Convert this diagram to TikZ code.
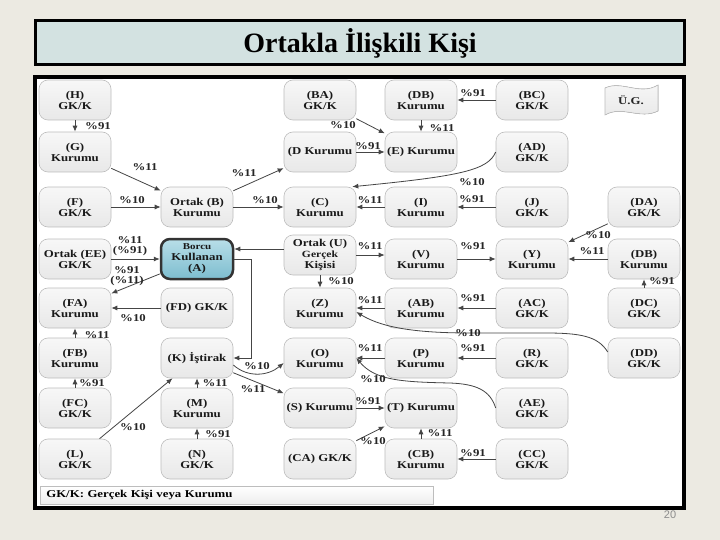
\documentclass[tikz,border=0pt]{standalone}
\usepackage{fontspec}
\setmainfont{Liberation Serif}
\newfontfamily\nodefont[FakeStretch=1.22]{Liberation Serif}
\newfontfamily\pagenumfont{Liberation Sans}
\usetikzlibrary{arrows.meta,calc}
\definecolor{pagebg}{HTML}{ECEAE2}
\definecolor{titlebg}{HTML}{D3E2E1}
\definecolor{boxline}{HTML}{BDBDBD}
\definecolor{arrowc}{HTML}{454545}
\definecolor{bluetop}{HTML}{B8DEE8}
\definecolor{bluebot}{HTML}{7DBDCF}
\begin{document}
\begin{tikzpicture}[x=1pt,y=-1pt,
  box/.style={draw=boxline, line width=0.6pt, rounded corners=9pt,
    minimum width=72pt, minimum height=40pt, top color=gray!6, bottom color=gray!18,
    align=center, inner sep=1pt,
    font=\nodefont\bfseries\fontsize{10.5}{11}\selectfont, text=black!90},
  mainbox/.style={box, draw=black!80, line width=2.5pt, top color=bluetop, bottom color=bluebot},
  lbl/.style={font=\nodefont\bfseries\fontsize{10.5}{10.5}\selectfont, inner sep=0pt, text=black!85, align=center},
  arr/.style={draw=arrowc, line width=0.8pt, -{Latex[length=6pt,width=5pt]}}
]
\fill[pagebg] (0,0) rectangle (720,540);
\useasboundingbox (0,0) rectangle (720,540);

% title
\node[draw=black, line width=3pt, fill=titlebg, minimum width=649pt, minimum height=44pt,
  font=\fontsize{28}{30}\selectfont\bfseries] (title) at (360,43) {Ortakla İlişkili Kişi};
% panel
\node[draw=black, line width=4pt, fill=white, minimum width=649pt, minimum height=431pt] (panel) at (359.5,292.5) {};

% row 1
\node[box] (nH)  at (75,100)  {(H)\\GK/K};
\node[box] (nBA) at (320,100) {(BA)\\GK/K};
\node[box] (nDB) at (421,100) {(DB)\\Kurumu};
\node[box] (nBC) at (532,100) {(BC)\\GK/K};
\filldraw[draw=boxline, line width=0.6pt, top color=gray!6, bottom color=gray!18]
  (605,88) .. controls (622,80) and (640,96) .. (658,85) -- (658,111)
  .. controls (640,120) and (622,105) .. (605,115) -- cycle;
\node[lbl] (nUG) at (631,100) {Ü.G.};
% row 2
\node[box] (nG)  at (75,152)  {(G)\\Kurumu};
\node[box] (nD)  at (320,152) {(D Kurumu};
\node[box] (nE)  at (421,152) {(E) Kurumu};
\node[box] (nAD) at (532,152) {(AD)\\GK/K};
% row 3
\node[box] (nF)  at (75,207)  {(F)\\GK/K};
\node[box] (nB)  at (197,207) {Ortak (B)\\Kurumu};
\node[box] (nC)  at (320,207) {(C)\\Kurumu};
\node[box] (nI)  at (421,207) {(I)\\Kurumu};
\node[box] (nJ)  at (532,207) {(J)\\GK/K};
\node[box] (nDA) at (644,207) {(DA)\\GK/K};
% row 4
\node[box] (nEE) at (75,259)  {Ortak (EE)\\GK/K};
\node[mainbox] (nA) at (197,259) {{\fontsize{9}{10}\selectfont Borcu}\\Kullanan\\(A)};
\node[box] (nU)  at (320,255) {Ortak (U)\\{\fontsize{9.5}{10}\selectfont Gerçek}\\Kişisi};
\node[box] (nV)  at (421,259) {(V)\\Kurumu};
\node[box] (nY)  at (532,259) {(Y)\\Kurumu};
\node[box] (nDB2) at (644,259) {(DB)\\Kurumu};
% row 5
\node[box] (nFA) at (75,308)  {(FA)\\Kurumu};
\node[box] (nFD) at (197,308) {(FD) GK/K};
\node[box] (nZ)  at (320,308) {(Z)\\Kurumu};
\node[box] (nAB) at (421,308) {(AB)\\Kurumu};
\node[box] (nAC) at (532,308) {(AC)\\GK/K};
\node[box] (nDC) at (644,308) {(DC)\\GK/K};
% row 6
\node[box] (nFB) at (75,358)  {(FB)\\Kurumu};
\node[box] (nK)  at (197,358) {(K) İştirak};
\node[box] (nO)  at (320,358) {(O)\\Kurumu};
\node[box] (nP)  at (421,358) {(P)\\Kurumu};
\node[box] (nR)  at (532,358) {(R)\\GK/K};
\node[box] (nDD) at (644,358) {(DD)\\GK/K};
% row 7
\node[box] (nFC) at (75,408)  {(FC)\\GK/K};
\node[box] (nM)  at (197,408) {(M)\\Kurumu};
\node[box] (nS)  at (320,408) {(S) Kurumu};
\node[box] (nT)  at (421,408) {(T) Kurumu};
\node[box] (nAE) at (532,408) {(AE)\\GK/K};
% row 8
\node[box] (nL)  at (75,459)  {(L)\\GK/K};
\node[box] (nN)  at (197,459) {(N)\\GK/K};
\node[box] (nCA) at (320,459) {(CA) GK/K};
\node[box] (nCB) at (421,459) {(CB)\\Kurumu};
\node[box] (nCC) at (532,459) {(CC)\\GK/K};

% legend
\node[draw=boxline, line width=0.6pt, top color=white, bottom color=gray!14, anchor=west,
  text width=381pt, inner xsep=6pt, inner ysep=0pt, minimum height=18pt, align=left,
  font=\nodefont\bfseries\fontsize{10.5}{11}\selectfont] (legend) at (40,495)
  {GK/K: Gerçek Kişi veya Kurumu};
\node[font=\pagenumfont\fontsize{11}{12}\selectfont, text=black!45] (pnum) at (670,515) {20};

% connectors
\draw[arr] (nH) -- (nG) node[lbl] at (98,126) {\%91};
\draw[arr] (nG) -- (nB) node[lbl] at (145,167) {\%11};
\draw[arr] (nF) -- (nB) node[lbl] at (132,200) {\%10};
\draw[arr] (nB) -- (nD) node[lbl] at (244,173) {\%11};
\draw[arr] (nB) -- (nC) node[lbl] at (265,200) {\%10};
\draw[arr] (nBA) -- (nE) node[lbl] at (343,125) {\%10};
\draw[arr] (nDB) -- (nE) node[lbl] at (442,128) {\%11};
\draw[arr] (nBC) -- (nDB) node[lbl] at (473,93) {\%91};
\draw[arr] (nD) -- (nE) node[lbl] at (368,146) {\%91};
\draw[arr] (nAD.west) .. controls (488,170) and (462,176) .. ([xshift=-4pt]nC.north east)
  node[lbl] at (472,182) {\%10};
\draw[arr] (nI) -- (nC) node[lbl] at (370,200) {\%11};
\draw[arr] (nJ) -- (nI) node[lbl] at (472,199) {\%91};
\draw[arr] (nEE) -- (nA) node[lbl] at (130,246) {\%11\\(\%91)};
\draw[arr] (nA) -- (nFA) node[lbl] at (127,276) {\%91\\(\%11)};
\coordinate (ua) at ([yshift=6pt]nU.west);
\draw[arr] (ua) -- (ua -| nA.east);
\draw[arr] (nA.east) -- ++(17,0) |- (nK.east);
\draw[arr] (nFD) -- (nFA) node[lbl] at (133,318) {\%10};
\draw[arr] (nFB) -- (nFA) node[lbl] at (97,335) {\%11};
\draw[arr] (nFC) -- (nFB) node[lbl] at (92,383) {\%91};
\draw[arr] (nL) -- (nK) node[lbl] at (133,427) {\%10};
\draw[arr] (nM) -- (nK) node[lbl] at (215,383) {\%11};
\draw[arr] (nN) -- (nM) node[lbl] at (218,434) {\%91};
\draw[arr] (nU) -- (nZ) node[lbl] at (341,281) {\%10};
\draw[arr] (nU.east) -- (nU.east -| nV.west) node[lbl] at (370,246) {\%11};
\draw[arr] (nV) -- (nY) node[lbl] at (473,246) {\%91};
\draw[arr] (nDA) -- (nY) node[lbl] at (598,235) {\%10};
\draw[arr] (nDB2) -- (nY) node[lbl] at (592,251) {\%11};
\draw[arr] (nDC) -- (nDB2) node[lbl] at (662,281) {\%91};
\draw[arr] (nAB) -- (nZ) node[lbl] at (370,300) {\%11};
\draw[arr] (nAC) -- (nAB) node[lbl] at (473,298) {\%91};
\draw[arr] ([yshift=6pt]nDD.west) .. controls (598,336) and (580,333) .. (545,333) -- (470,333)
  .. controls (405,333) and (378,325) .. ([yshift=-4pt]nZ.east)
  node[lbl] at (468,333) {\%10};
\draw[arr] (nP) -- (nO) node[lbl] at (370,348) {\%11};
\draw[arr] (nR) -- (nP) node[lbl] at (473,348) {\%91};
\draw[arr] ([yshift=-7pt]nK.east) .. controls (248,378) and (268,376) .. ([yshift=-5pt]nO.west)
  node[lbl] at (257,366) {\%10};
\draw[arr] (nK) -- (nS) node[lbl] at (253,389) {\%11};
\draw[arr] (nAE.west) .. controls (490,390) and (476,384) .. (450,383)
  .. controls (400,382) and (375,380) .. (nO.east)
  node[lbl] at (373,379) {\%10};
\draw[arr] (nS) -- (nT) node[lbl] at (368,401) {\%91};
\draw[arr] (nCA) -- (nT) node[lbl] at (373,441) {\%10};
\draw[arr] (nCB) -- (nT) node[lbl] at (440,433) {\%11};
\draw[arr] (nCC) -- (nCB) node[lbl] at (473,453) {\%91};
\end{tikzpicture}
\end{document}
